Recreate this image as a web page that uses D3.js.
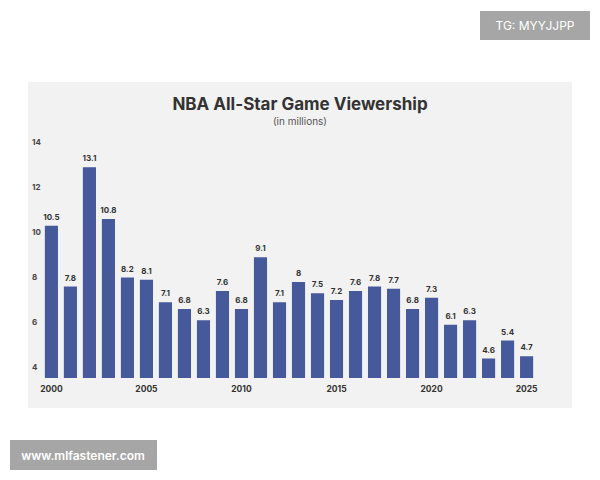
<!DOCTYPE html><html><head><script src="https://cdn.jsdelivr.net/npm/d3@7"></script>
<style>body{margin:0;background:#fff}text{font-family:Inter,"Noto Sans",sans-serif}</style></head><body>
<svg id="c" width="600" height="480"></svg>
<script>
const years=d3.range(2000,2026);
const values=[10.5,7.8,13.1,10.8,8.2,8.1,7.1,6.8,6.3,7.6,6.8,9.1,7.1,8,7.5,7.2,7.6,7.8,7.7,6.8,7.3,6.1,6.3,4.6,5.4,4.7];
const yTicks=[4,6,8,10,12,14];
const xTicks=[2000,2005,2010,2015,2020,2025];
const svg=d3.select("#c");
svg.append("rect").attr("x",28).attr("y",82).attr("width",544).attr("height",326).attr("fill","#f2f2f2");
const x=d3.scaleBand().domain(years).range([42,536]).paddingInner(0.31).paddingOuter(0.15);
const y=d3.scaleLinear().domain([4,14]).range([372,147]);
svg.append("text").attr("x",300).attr("y",110).attr("text-anchor","middle").attr("font-size",17).attr("font-weight",700).attr("fill","#333").text("NBA All-Star Game Viewership");
svg.append("text").attr("x",300).attr("y",125).attr("text-anchor","middle").attr("font-size",10).attr("fill","#555").text("(in millions)");
svg.selectAll(".b").data(values).join("rect").attr("x",(d,i)=>x(years[i])).attr("width",x.bandwidth())
 .attr("y",d=>y(d)).attr("height",d=>y(4)+6-y(d)).attr("fill","#465a9b");
svg.selectAll(".v").data(values).join("text").attr("x",(d,i)=>x(years[i])+x.bandwidth()/2).attr("y",d=>y(d)-6)
 .attr("text-anchor","middle").attr("font-size",8).attr("font-weight",700).attr("fill","#333").text(d=>d);
svg.selectAll(".yt").data(yTicks).join("text").attr("x",32).attr("y",d=>y(d)-2).attr("font-size",8).attr("font-weight",700).attr("fill","#444").text(d=>d);
svg.selectAll(".xt").data(xTicks).join("text").attr("x",d=>x(d)+x.bandwidth()/2).attr("y",392).attr("text-anchor","middle").attr("font-size",8.5).attr("font-weight",700).attr("fill","#333").text(d=>d);
svg.append("rect").attr("x",480).attr("y",11).attr("width",110).attr("height",29).attr("fill","#a6a6a6");
svg.append("text").attr("x",535).attr("y",30).attr("text-anchor","middle").attr("font-size",12).attr("fill","#fff").text("TG: MYYJJPP");
svg.append("rect").attr("x",10).attr("y",440).attr("width",147).attr("height",30).attr("fill","#a6a6a6");
svg.append("text").attr("x",83).attr("y",460).attr("text-anchor","middle").attr("font-size",12).attr("font-weight",600).attr("fill","#fff").text("www.mlfastener.com");
</script></body></html>
